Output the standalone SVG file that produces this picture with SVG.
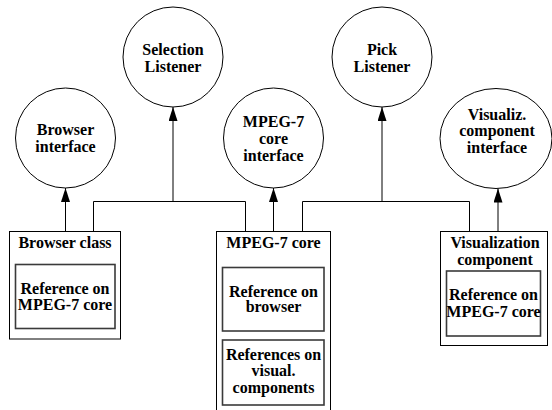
<svg xmlns="http://www.w3.org/2000/svg" width="552" height="410" viewBox="0 0 552 410">
  <style>
    .bg { fill: #ffffff; }
    .iface { fill: #ffffff; stroke: #000000; stroke-width: 1; }
    .outer { fill: #ffffff; stroke: #000000; stroke-width: 1; }
    .inner { fill: #ffffff; stroke: #3a3a3a; stroke-width: 1.6; }
    .wire { fill: none; stroke: #000000; stroke-width: 1; }
    text { font-family: "Liberation Serif", "Times New Roman", serif; font-weight: bold; font-size: 16px; fill: #000000; text-anchor: middle; }
  </style>
  <defs>
    <marker id="arrow" viewBox="0 0 14 9" refX="14" refY="4.5" markerWidth="14" markerHeight="9" markerUnits="userSpaceOnUse" orient="auto">
      <path d="M0,0 L14,4.5 L0,9 Z" fill="#000000"/>
    </marker>
  </defs>

  <rect class="bg" x="0" y="0" width="552" height="410"/>

  <!-- connectors -->
  <g id="connectors">
    <line class="wire" x1="65.5" y1="231.5" x2="65.5" y2="188" marker-end="url(#arrow)"/>
    <polyline class="wire" points="93.5,231.5 93.5,201.5 245.5,201.5 245.5,231.5"/>
    <line class="wire" x1="173" y1="201.5" x2="173" y2="107" marker-end="url(#arrow)"/>
    <line class="wire" x1="273.5" y1="231.5" x2="273.5" y2="188" marker-end="url(#arrow)"/>
    <polyline class="wire" points="302.5,231.5 302.5,201.5 469.5,201.5 469.5,231.5"/>
    <line class="wire" x1="382" y1="201.5" x2="382" y2="107" marker-end="url(#arrow)"/>
    <line class="wire" x1="498" y1="231.5" x2="498" y2="188.5" marker-end="url(#arrow)"/>
  </g>

  <!-- interfaces -->
  <g id="browser-interface">
    <circle class="iface" cx="65.5" cy="138" r="50"/>
    <text x="65.5" y="135">Browser</text>
    <text x="65.5" y="152">interface</text>
  </g>
  <g id="selection-listener">
    <circle class="iface" cx="173" cy="57" r="50"/>
    <text x="173" y="54.5">Selection</text>
    <text x="173" y="71.5">Listener</text>
  </g>
  <g id="mpeg7-core-interface">
    <circle class="iface" cx="273.5" cy="138" r="50"/>
    <text x="273.5" y="126.5">MPEG-7</text>
    <text x="273.5" y="143.5">core</text>
    <text x="273.5" y="160.5">interface</text>
  </g>
  <g id="pick-listener">
    <circle class="iface" cx="382" cy="57" r="50"/>
    <text x="382" y="54.5">Pick</text>
    <text x="382" y="71.5">Listener</text>
  </g>
  <g id="visualiz-component-interface">
    <ellipse class="iface" cx="496" cy="138.5" rx="56" ry="50"/>
    <text x="497" y="119.5">Visualiz.</text>
    <text x="497" y="136">component</text>
    <text x="497" y="152.5">interface</text>
  </g>

  <!-- classes -->
  <g id="browser-class">
    <rect class="outer" x="9.5" y="231.5" width="111" height="107.5"/>
    <text x="65" y="248">Browser class</text>
    <rect class="inner" x="15.5" y="264.5" width="99.5" height="64"/>
    <text x="65" y="293.5">Reference on</text>
    <text x="65" y="310">MPEG-7 core</text>
  </g>
  <g id="mpeg7-core">
    <rect class="outer" x="216.5" y="231.5" width="114" height="200"/>
    <text x="273.5" y="248">MPEG-7 core</text>
    <rect class="inner" x="222.5" y="267.5" width="101.5" height="63.5"/>
    <text x="273.5" y="296.5">Reference on</text>
    <text x="273.5" y="312">browser</text>
    <rect class="inner" x="222.5" y="340" width="101.5" height="65"/>
    <text x="273.5" y="359.5">References on</text>
    <text x="273.5" y="376">visual.</text>
    <text x="273.5" y="392.5">components</text>
  </g>
  <g id="visualization-component">
    <rect class="outer" x="440.5" y="231.5" width="107" height="114"/>
    <text x="495" y="248">Visualization</text>
    <text x="495" y="264.5">component</text>
    <rect class="inner" x="446.5" y="271" width="94" height="65"/>
    <text x="493.5" y="300">Reference on</text>
    <text x="493.5" y="316.5">MPEG-7 core</text>
  </g>
</svg>
